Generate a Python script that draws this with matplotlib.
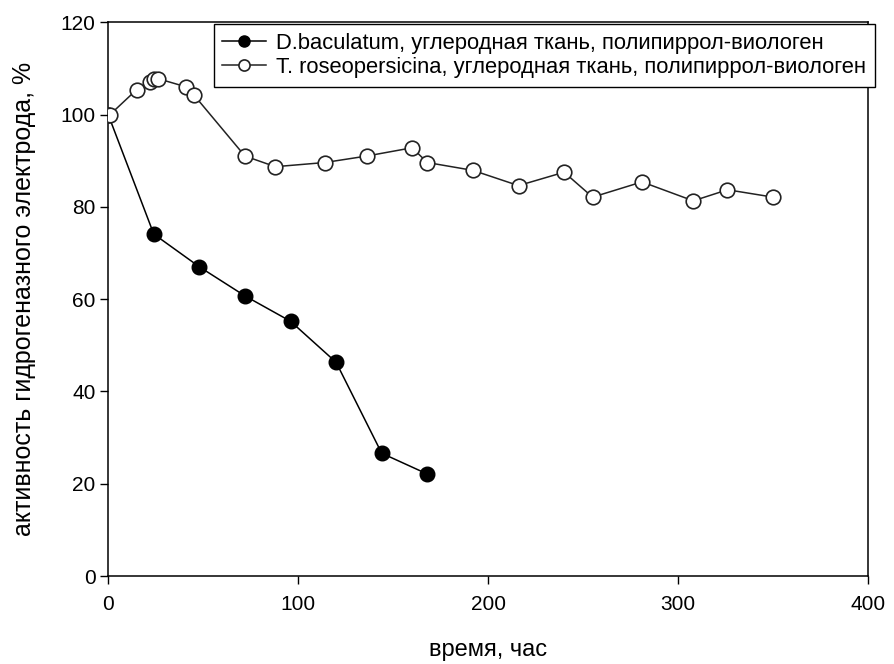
import matplotlib
matplotlib.use('Agg')
from matplotlib import pyplot as plt

plt.rcParams['font.family'] = ['Liberation Sans', 'DejaVu Sans']

# D.baculatum electrode, measured once a day
t_dbac = [0, 24, 48, 72, 96, 120, 144, 168]
act_dbac = [100, 74.1, 67.0, 60.7, 55.2, 46.3, 26.6, 22.1]

# T. roseopersicina electrode
t_trose = [0, 1, 15, 22, 24, 26, 41, 45, 72, 88, 114, 136, 160, 168,
           192, 216, 240, 255, 281, 308, 326, 350]
act_trose = [100, 100, 105.4, 107.0, 107.8, 107.8, 106.0, 104.3, 91.0, 88.7,
             89.6, 91.0, 92.8, 89.6, 87.9, 84.6, 87.5, 82.1, 85.4, 81.3,
             83.7, 82.1]

label_dbac = 'D.baculatum, углеродная ткань, полипиррол-виологен'
label_trose = 'T. roseopersicina, углеродная ткань, полипиррол-виологен'

fig = plt.figure(figsize=(8.94, 6.64), dpi=100)
ax = fig.add_axes([0.121, 0.1325, 0.850, 0.834])

ax.plot(t_dbac, act_dbac, color='black', lw=1.1, marker='o', ms=10.5,
        mfc='black', mec='black', label=label_dbac, zorder=3)
ax.plot(t_trose, act_trose, color='#222222', lw=1.1, marker='o', ms=10.5,
        mfc='white', mec='#222222', mew=1.2, label=label_trose, zorder=3)

ax.set_xlim(0, 400)
ax.set_ylim(0, 120)
ax.set_xticks([0, 100, 200, 300, 400])
ax.set_yticks([0, 20, 40, 60, 80, 100, 120])
ax.tick_params(direction='out', length=6, width=1, labelsize=15,
               top=False, right=False)
ax.tick_params(axis='x', pad=8)
ax.tick_params(axis='y', pad=3)
for s in ax.spines.values():
    s.set_linewidth(1.1)

ax.set_xlabel('время, час', fontsize=17, labelpad=18)
ax.set_ylabel('активность гидрогеназного электрода, %', fontsize=18,
              labelpad=18)

leg = fig.legend(loc='upper left', bbox_to_anchor=(0.239, 0.964),
                 fontsize=15.8, frameon=True, fancybox=False,
                 edgecolor='black', handlelength=2.0, handletextpad=0.45,
                 borderpad=0.4, labelspacing=0.15, borderaxespad=0)
leg.get_frame().set_linewidth(1.0)
leg.get_frame().set_alpha(1)
for h in leg.legend_handles:
    h.set_markersize(8)

fig.savefig('out.png', dpi=100)
